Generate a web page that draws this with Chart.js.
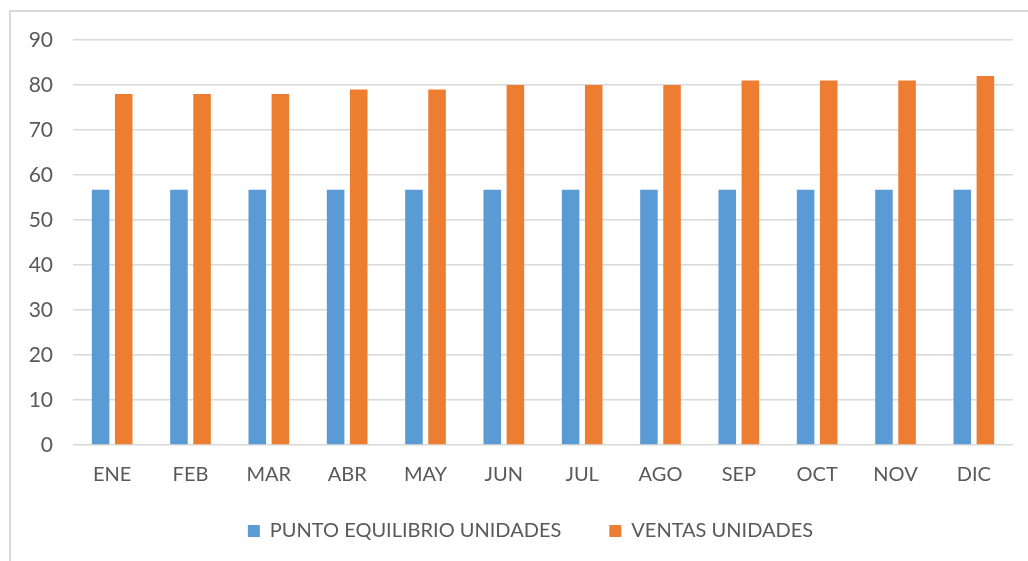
<!DOCTYPE html>
<html>
<head>
<meta charset="utf-8">
<script src="https://cdn.jsdelivr.net/npm/chart.js@4"></script>
<style>
  html, body { margin: 0; padding: 0; background: #ffffff; overflow: hidden; }
  #frame { position: absolute; left: 9px; top: 10px; width: 1100px; height: 700px;
           border-left: 2px solid #d9d9d9; border-top: 2px solid #d9d9d9; }
  #wrap { position: absolute; left: 0; top: 0; width: 1028px; height: 561px; overflow: hidden; }
</style>
</head>
<body>
<div id="frame"></div>
<div id="wrap"><canvas id="c" width="1028" height="561"></canvas></div>
<script>
const categories = ["ENE","FEB","MAR","ABR","MAY","JUN","JUL","AGO","SEP","OCT","NOV","DIC"];
const seriesNames = ["PUNTO EQUILIBRIO UNIDADES", "VENTAS UNIDADES"];
const puntoEquilibrio = [56.7,56.7,56.7,56.7,56.7,56.7,56.7,56.7,56.7,56.7,56.7,56.7];
const ventas = [78,78,78,79,79,80,80,80,81,81,81,82];
const yTicks = [0,10,20,30,40,50,60,70,80,90];

const textColor = "#595959";
const fontFamily = "Lato, 'Liberation Sans', sans-serif";

const adjustLayout = {
  id: "adjustLayout",
  afterLayout(chart) {
    const l = chart.legend;
    if (l) { l.left += 24; l.right += 24; l.top -= 10; l.bottom -= 10; }
    const x = chart.scales.x;
    if (x) { x.bottom += 30; }
  }
};

new Chart(document.getElementById("c"), {
  type: "bar",
  data: {
    labels: categories,
    datasets: [
      { label: seriesNames[0], data: puntoEquilibrio, backgroundColor: "#5B9BD5",
        categoryPercentage: 0.59, barPercentage: 0.76 },
      { label: seriesNames[1], data: ventas, backgroundColor: "#ED7D31",
        categoryPercentage: 0.59, barPercentage: 0.76 }
    ]
  },
  plugins: [adjustLayout],
  options: {
    responsive: false,
    animation: false,
    devicePixelRatio: 1,
    layout: { padding: { top: 40, right: 15, bottom: 0, left: 0 } },
    plugins: {
      tooltip: { enabled: false },
      legend: {
        position: "bottom",
        labels: {
          boxWidth: 12, boxHeight: 12, padding: 48,
          color: textColor,
          font: { family: fontFamily, size: 20 }
        }
      }
    },
    scales: {
      x: {
        afterFit: s => { s.height = 38; },
        grid: { display: false, drawTicks: false },
        border: { display: false },
        ticks: { color: textColor, padding: 18, font: { family: fontFamily, size: 20 } }
      },
      y: {
        min: 0, max: 90,
        afterFit: s => { s.width = 73; },
        afterBuildTicks: s => { s.ticks = yTicks.map(v => ({ value: v })); },
        grid: { color: "#d9d9d9", lineWidth: 1.5, drawTicks: false },
        border: { display: false },
        ticks: { color: textColor, padding: 20, font: { family: fontFamily, size: 21 } }
      }
    }
  }
});
</script>
</body>
</html>
